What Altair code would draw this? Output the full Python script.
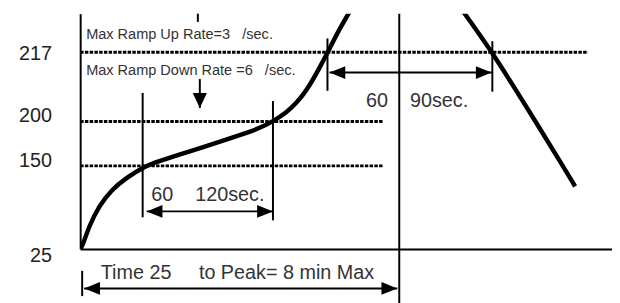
import altair as alt
import pandas as pd

# ---------------- data (schematic reflow profile) ----------------
temp_ticks = [25, 150, 200, 217]            # labelled temperatures
temp_breaks = [25, 150, 200, 217, 245]      # piecewise (non-linear) temperature axis
time_domain = [0, 800]                      # seconds

profile_time = [0, 3, 13.4, 28.3, 47.6, 68.4, 98.1, 117.5, 147.2, 181.4, 217.1, 246.8,
                269.1, 289.9, 310.8, 325.7, 340.5, 359.9, 373.2, 388.1, 403,
                431, 488, 544, 578.4, 620, 684.9, 726, 744.5]
profile_temp = [25, 28, 59.2, 89.7, 114.3, 131.4, 150, 155, 162.2, 170, 178.9, 186.1,
                192.2, 200, 202.2, 204.6, 207.5, 213.1, 217.7, 232.1, 244.3,
                268, 282, 268, 245, 217, 200, 150, 119.2]

level_temp = [217, 200, 150]
level_end = [764, 456, 456]

marker_time = [94, 290, 372, 620, 480, 177, 3]
marker_top = [207, 205, 227, 225, 245, 245, -8]
marker_bottom = [72.6, 68, 207.5, 207.3, -60, 239, -46]

span_start = [100, 375, 6]
span_end = [290, 619, 477]
span_temp = [81.5, 212, -34.5]

down_time = [180]
down_from = [210.4]
down_to = [203.3]

NB = "\u00a0"
small_labels = ["Max Ramp Up Rate=3" + NB * 3 + "/sec.",
                "Max Ramp Down Rate =6" + NB * 3 + "/sec."]
small_time = [9, 9]
small_temp = [226.3, 211.4]

big_labels = ["60" + NB * 4 + "120sec.",
              "60" + NB * 4 + "90sec.",
              "Time 25" + NB * 5 + "to Peak= 8 min Max"]
big_time = [107, 430, 31]
big_temp = [96.4, 203.5, -19.6]

# ---------------- tables ----------------
profile = pd.DataFrame({"t": profile_time, "v": profile_temp})
levels = pd.DataFrame({"t": [0] * len(level_temp), "t2": level_end, "v": level_temp})
markers = pd.DataFrame({"t": marker_time, "v": marker_top, "v2": marker_bottom})
spans = pd.DataFrame({"t": span_start, "t2": span_end, "v": span_temp})
down = pd.DataFrame({"t": down_time, "v": down_from, "v2": down_to})

HEAD = {"left": "M0,0L2,-0.8L2,0.8Z",
        "right": "M0,0L-2,-0.8L-2,0.8Z",
        "down": "M0,0L-0.9,-1.9L0.9,-1.9Z"}
heads = pd.DataFrame(
    [{"t": a, "v": v, "shape": HEAD["left"]} for a, v in zip(span_start, span_temp)]
    + [{"t": b, "v": v, "shape": HEAD["right"]} for b, v in zip(span_end, span_temp)]
    + [{"t": t, "v": v, "shape": HEAD["down"]} for t, v in zip(down_time, down_to)]
)
small = pd.DataFrame({"t": small_time, "v": small_temp, "label": small_labels})
big = pd.DataFrame({"t": big_time, "v": big_temp, "label": big_labels})

# ---------------- scales / axes ----------------
FONT = "Liberation Sans"
XS = alt.Scale(domain=time_domain, nice=False, zero=False)
YS = alt.Scale(domain=temp_breaks, range=[238, 154, 109, 39, 0], nice=False, zero=False)
XA = alt.Axis(title=None, labels=False, ticks=False, tickSize=0, grid=False,
              domainColor="black", domainWidth=2)
YA = alt.Axis(title=None, values=temp_ticks, ticks=False, tickSize=0, grid=False,
              domainColor="black", domainWidth=2, labelFont=FONT, labelFontSize=20,
              labelColor="#222", labelPadding=29, labelAlign="right",
              labelOffset={"condition": [{"test": "datum.value === 25", "value": 7},
                                         {"test": "datum.value === 217", "value": 1}],
                           "value": -5.5})


def X(f="t"):
    return alt.X(f"{f}:Q", scale=XS, axis=XA)


def Y(f="v"):
    return alt.Y(f"{f}:Q", scale=YS, axis=YA)


curve = alt.Chart(profile).mark_line(
    color="black", strokeWidth=4.5, interpolate="basis", clip=True
).encode(x=X(), y=Y())

dotted = alt.Chart(levels).mark_rule(
    color="black", strokeWidth=3, strokeDash=[3.5, 1.3]
).encode(x=X(), x2="t2:Q", y=Y())

vlines = alt.Chart(markers).mark_rule(color="black", strokeWidth=2).encode(
    x=X(), y=Y(), y2="v2:Q")

shafts = alt.Chart(spans).mark_rule(color="black", strokeWidth=2).encode(
    x=X(), x2="t2:Q", y=Y())

down_shaft = alt.Chart(down).mark_rule(color="black", strokeWidth=2).encode(
    x=X(), y=Y(), y2="v2:Q")

arrowheads = alt.Chart(heads).mark_point(
    filled=True, color="black", opacity=1, size=256, strokeWidth=0
).encode(x=X(), y=Y(), shape=alt.Shape("shape:N", scale=None, legend=None))

small_text = alt.Chart(small).mark_text(
    align="left", baseline="alphabetic", font=FONT, fontSize=14.7, color="#333"
).encode(x=X(), y=Y(), text="label:N")

big_text = alt.Chart(big).mark_text(
    align="left", baseline="alphabetic", font=FONT, fontSize=20, color="#333"
).encode(x=X(), y=Y(), text="label:N")

chart = alt.layer(
    dotted, vlines, shafts, down_shaft, arrowheads, curve, small_text, big_text
).properties(
    width=538, height=238,
    autosize=alt.AutoSizeParams(type="none"),
    padding={"left": 73, "top": 4, "right": 0, "bottom": 53},
    background="white",
).configure_view(stroke=None)

chart.save("out.html", embed_options={"renderer": "svg", "actions": False})
